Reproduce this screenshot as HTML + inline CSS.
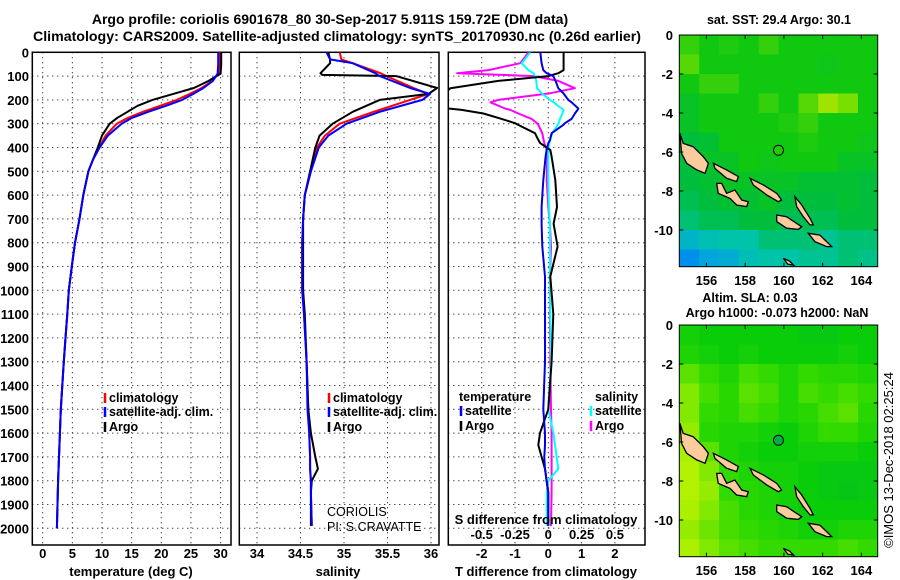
<!DOCTYPE html>
<html><head><meta charset="utf-8">
<style>
html,body{margin:0;padding:0;background:#fff;}
svg{display:block;font-family:"Liberation Sans",sans-serif;}
.tk{font-size:13px;font-weight:bold;fill:#000;}
.tt{font-size:14px;font-weight:bold;fill:#000;}
.lg{font-size:12.5px;font-weight:bold;fill:#000;}
</style></head>
<body>
<svg id="fig" width="900" height="580" viewBox="0 0 900 580" xmlns="http://www.w3.org/2000/svg">
<defs>
<clipPath id="c1"><rect x="32.3" y="52.3" width="198.7" height="492.7"/></clipPath>
<clipPath id="c2"><rect x="239.3" y="52.3" width="199.7" height="492.7"/></clipPath>
<clipPath id="c3"><rect x="448.3" y="52.3" width="196.7" height="492.7"/></clipPath>
<clipPath id="cm1"><rect x="679.3" y="35" width="198.4" height="231.7"/></clipPath>
<clipPath id="cm2"><rect x="679.3" y="325" width="198.4" height="231.7"/></clipPath>
</defs>
<text class="tt" x="330" y="24" text-anchor="middle">Argo profile: coriolis 6901678_80 30-Sep-2017 5.911S 159.72E (DM data)</text>
<text class="tt" x="337" y="41" text-anchor="middle" textLength="608" lengthAdjust="spacingAndGlyphs">Climatology: CARS2009. Satellite-adjusted climatology: synTS_20170930.nc (0.26d earlier)</text>
<g id="root"></g>
</svg>
<script>
// ---------- profile data ----------
const depthT=[0,50,90,100,120,150,175,200,225,250,275,300,350,400,450,500,600,700,800,900,1000,1100,1200,1300,1400,1500,1600,1700,1800,1900,2000];
const tempArgo=[30.1,30.1,30.0,29.3,28.0,25.5,22.0,18.5,16.0,14.3,12.6,11.3,10.0,9.3,8.5,7.7,6.85,6.2,5.45,4.9,4.4,4.15,3.85,3.55,3.3,3.05,2.9,2.75,2.6,2.5,2.4];
const tempClim=[29.8,29.8,29.7,29.3,28.6,26.8,24.8,22.6,19.8,16.9,14.4,12.5,10.6,9.5,8.5,7.7,6.85,6.2,5.45,4.9,4.4,4.15,3.85,3.55,3.3,3.05,2.9,2.75,2.6,2.5,2.4];
const tempSat=[29.6,29.6,29.5,29.2,28.7,27.1,25.4,23.5,20.8,17.8,15.1,13.3,11.0,9.6,8.5,7.7,6.85,6.2,5.45,4.9,4.4,4.15,3.85,3.55,3.3,3.05,2.9,2.75,2.6,2.5,2.4];
const depthS=[0,30,46,88,95,100,150,175,200,250,300,350,400,500,600,700,800,1000,1100,1300,1500,1600,1700,1750,1800,1850,1990];
const salArgo=[34.82,34.84,34.84,34.73,34.75,35.6,36.07,35.97,35.41,35.1,34.87,34.72,34.67,34.61,34.55,34.53,34.53,34.53,34.55,34.57,34.59,34.62,34.67,34.70,34.63,34.62,34.62];
const salClim=[34.95,34.97,35.1,35.42,35.46,35.49,35.8,35.97,35.76,35.34,34.95,34.78,34.69,34.62,34.55,34.53,34.52,34.52,34.54,34.57,34.59,34.6,34.61,34.61,34.62,34.62,34.63];
const salSat=[34.8,34.84,35.1,35.36,35.39,35.41,35.76,35.99,35.9,35.41,35.03,34.82,34.71,34.62,34.55,34.53,34.52,34.52,34.54,34.57,34.58,34.6,34.61,34.61,34.62,34.62,34.63];
const depthD=[0,46,75,88,100,120,151,172,200,210,236,242,257,280,298,305,340,368,382,410,438,537,650,720,816,942,1100,1300,1500,1600,1650,1700,1750,1800,1850,1990];
const tDiffArgo=[0.46,0.46,0.46,0.3,0.0,-1.5,-2.94,-3.1,-3.2,-3.2,-3.0,-2.6,-1.95,-1.4,-1.0,-0.9,-0.4,-0.3,-0.24,0.06,0.1,0.21,0.26,0.16,0.28,0.06,0.15,0.1,0.0,-0.25,-0.3,-0.2,-0.1,-0.05,0.0,0.0];
const tDiffSat=[-0.24,-0.2,-0.15,-0.05,0.15,0.22,0.3,0.45,0.6,0.7,0.9,0.88,0.8,0.7,0.5,0.45,0.1,0.05,0.0,-0.05,-0.08,-0.15,-0.2,-0.2,-0.18,-0.1,-0.1,-0.1,-0.15,-0.1,-0.1,-0.12,-0.1,-0.05,0.0,0.0];
const sDiffArgo=[-0.148,-0.21,-0.45,-0.685,-0.11,0.075,0.2,0.015,-0.375,-0.435,-0.325,-0.285,-0.225,-0.125,-0.085,-0.075,-0.045,-0.035,-0.03,-0.01,-0.008,-0.012,0,0.012,0.02,0.012,0.012,0.015,0.02,0.025,0.025,0.025,0.025,0.025,0.025,0.02];
const sDiffSat=[-0.135,-0.2,-0.15,-0.11,-0.1,-0.09,-0.085,-0.05,0.012,0.04,0.1,0.115,0.105,0.088,0.078,0.07,0.03,0.015,0.008,0,0,0,0.005,0.012,0.012,0.012,0.015,0.02,0,0.038,0.05,0.062,0.075,0,-0.012,-0.012];
const depthTicks=[0,100,200,300,400,500,600,700,800,900,1000,1100,1200,1300,1400,1500,1600,1700,1800,1900,2000];
const tempTicks=[0,5,10,15,20,25,30];
const salTicks=[34,34.5,35,35.5,36];
const salTickLabels=["34","34.5","35","35.5","36"];
const tdTicks=[-2,-1,0,1,2];
const sdTicks=[-0.5,-0.25,0,0.25,0.5];
const sdTickLabels=["-0.5","-0.25","0","0.25","0.5"];
// ---------- map data ----------
const latTicks=[0,-2,-4,-6,-8,-10];
const lonTicks=[156,158,160,162,164];
const sstGrid=[
[.55,.5,.52,.5,.55,.5,.5,.5,.5,.5],
[.6,.5,.5,.5,.5,.5,.5,.48,.5,.5],
[.5,.55,.55,.5,.5,.5,.5,.5,.5,.5],
[.45,.5,.5,.5,.55,.5,.6,.7,.65,.5],
[.45,.5,.5,.5,.5,.52,.55,.5,.5,.5],
[.4,.42,.5,.5,.5,.5,.52,.5,.5,.48],
[.4,.45,.45,.5,.48,.5,.5,.5,.45,.45],
[.4,.42,.45,.45,.45,.45,.42,.42,.42,.4],
[.38,.4,.42,.42,.45,.4,.4,.4,.42,.4],
[.35,.38,.38,.4,.4,.38,.38,.38,.4,.4],
[.25,.28,.3,.3,.35,.35,.35,.32,.35,.35],
[.15,.2,.22,.28,.3,.3,.32,.32,.35,.33]];
const slaGrid=[
[.35,.3,.3,.3,.3,.3,.25,.25,.3,.3],
[.4,.35,.3,.35,.3,.3,.3,.3,.35,.3],
[.6,.5,.4,.55,.5,.4,.5,.45,.45,.4],
[.7,.55,.45,.6,.55,.4,.55,.5,.55,.5],
[.7,.5,.45,.55,.5,.4,.45,.55,.6,.45],
[.75,.45,.4,.4,.35,.3,.4,.5,.5,.4],
[.8,.6,.4,.35,.3,.3,.35,.35,.35,.3],
[.85,.7,.5,.4,.35,.35,.3,.25,.25,.25],
[.85,.75,.5,.45,.4,.35,.3,.25,.2,.25],
[.8,.7,.55,.45,.4,.35,.3,.3,.3,.3],
[.75,.65,.55,.5,.45,.4,.35,.35,.4,.4],
[.8,.7,.6,.55,.5,.5,.5,.5,.55,.5]];
const islands=[
 [[154.63,-5.04],[154.8,-5.56],[155.32,-5.73],[155.84,-6.24],[156.1,-6.58],[155.93,-7.09],[155.5,-6.92],[154.98,-6.58],[154.72,-6.07]],
 [[156.36,-6.58],[157.04,-6.92],[157.65,-7.26],[157.56,-7.52],[157.04,-7.35],[156.44,-6.84]],
 [[158.25,-7.35],[158.94,-7.69],[159.63,-8.12],[159.88,-8.46],[159.71,-8.55],[159.11,-8.2],[158.42,-7.69]],
 [[156.53,-7.61],[156.79,-7.61],[157.04,-8.12],[157.47,-7.95],[157.82,-8.46],[158.16,-8.55],[158.08,-8.8],[157.56,-8.72],[157.22,-8.38],[156.61,-8.12]],
 [[159.63,-9.23],[160.14,-9.32],[160.66,-9.66],[160.92,-9.83],[160.74,-9.97],[160.14,-9.91],[159.63,-9.57]],
 [[160.57,-8.29],[160.92,-8.72],[161.35,-9.4],[161.52,-9.74],[161.35,-9.74],[161.0,-9.32],[160.66,-8.8]],
 [[161.26,-10.17],[161.86,-10.26],[162.47,-10.85],[162.21,-10.85],[161.6,-10.6]],
 [[159.97,-11.45],[160.3,-11.6],[160.5,-11.8],[160.2,-11.75]]];
const argoLon=159.72, argoLat=-5.911;

const NS="http://www.w3.org/2000/svg";
const root=document.getElementById('root');
function mk(tag,attrs,parent){const e=document.createElementNS(NS,tag);for(const k in attrs)e.setAttribute(k,attrs[k]);(parent||root).appendChild(e);return e;}
function txt(x,y,s,cls,anchor,parent){const t=mk('text',{x:x,y:y,class:cls,'text-anchor':anchor||'middle'},parent);t.textContent=s;return t;}

const top0=52.3, bot=545;
const yD=d=>top0+d*0.238;
const xT=v=>42.7+v*5.93;
const xS=v=>257+(v-34)*87;
const xTD=v=>548.3+v*33.3;
const xSD=v=>548.3+v*4*33.3;

function panel(name,x0,x1,xfun,ticks,labels,clip,withY){
  const g=mk('g',{});
  
  
  ticks.forEach(v=>{const l=mk('line',{x1:xfun(v),x2:xfun(v),y1:top0,y2:bot,stroke:'#000','stroke-width':1,'stroke-dasharray':'1,4'},g);
    
    });
  depthTicks.forEach(d=>{const l=mk('line',{x1:x0,x2:x1,y1:yD(d),y2:yD(d),stroke:'#000','stroke-width':1,'stroke-dasharray':'1,4'},g);
    
    });
  const r=mk('rect',{x:x0,y:top0,width:x1-x0,height:bot-top0,fill:'none',stroke:'#000','stroke-width':1.5},g);
  
  
  if(labels){ticks.forEach((v,i)=>{const t=txt(xfun(v),558,labels[i],'tk','middle',g);
    
    });}
  if(withY){depthTicks.forEach(d=>{const t=txt(29,yD(d)+5,String(d),'tk','end',g);
    
    });}
  return g;
}
function series(name,depths,vals,xfun,color,clip,w){
  const pts=vals.map((v,i)=>xfun(v).toFixed(1)+','+yD(depths[i]).toFixed(1)).join(' ');
  const p=mk('polyline',{points:pts,fill:'none',stroke:color,'stroke-width':w||2,'stroke-linejoin':'round','clip-path':'url(#'+clip+')'});
  
  
}
function legendEntry(name,x,y,color,label){
  const l=mk('line',{x1:x,x2:x,y1:y-9,y2:y+1,stroke:color,'stroke-width':2.5});
  
  
  const t=txt(x+4,y,label,'lg','start');
  
  
}

panel('temperature-panel',32.3,231,xT,tempTicks,tempTicks.map(String),'c1',true);
series('temperature-clim-line',depthT,tempClim,xT,'#ff0000','c1');
series('temperature-argo-line',depthT,tempArgo,xT,'#000000','c1');
series('temperature-sat-line',depthT,tempSat,xT,'#0000ff','c1');
let t1=txt(131,576,'temperature (deg C)','tk');


legendEntry('legend-climatology',105,402,'#ff0000','climatology');
legendEntry('legend-satellite-adj',105,416,'#0000ff','satellite-adj. clim.');
legendEntry('legend-argo',105,431,'#000000','Argo');

panel('salinity-panel',239.3,439,xS,salTicks,salTickLabels,'c2',false);
series('salinity-clim-line',depthS,salClim,xS,'#ff0000','c2');
series('salinity-argo-line',depthS,salArgo,xS,'#000000','c2');
series('salinity-sat-line',depthS,salSat,xS,'#0000ff','c2');
let t2=txt(338,576,'salinity','tk');


legendEntry('legend-climatology-s',329,402,'#ff0000','climatology');
legendEntry('legend-satellite-adj-s',329,416,'#0000ff','satellite-adj. clim.');
legendEntry('legend-argo-s',329,431,'#000000','Argo');
let c1=txt(327,516,'CORIOLIS','lg','start'); c1.setAttribute('style','font-weight:normal');


let c2=txt(327,531,'PI: S.CRAVATTE','lg','start'); c2.setAttribute('style','font-weight:normal');



panel('difference-panel',448.3,645,xTD,tdTicks,tdTicks.map(String),'c3',false);
series('s-diff-argo-line',depthD,sDiffArgo,xSD,'#ff00ff','c3',2);
series('s-diff-sat-line',depthD,sDiffSat,xSD,'#00ffff','c3',2);
series('t-diff-argo-line',depthD,tDiffArgo,xTD,'#000000','c3',2);
series('t-diff-sat-line',depthD,tDiffSat,xTD,'#0000e0','c3',2);
let t3=txt(546,576,'T difference from climatology','tk');


let s3=txt(546,524,'S difference from climatology','tk');


sdTicks.forEach((v,i)=>{const t=txt(xSD(v),539,sdTickLabels[i],'tk');
  
  });
let lt=txt(459,401,'temperature','lg','start');


let ls=txt(595,401,'salinity','lg','start');


legendEntry('legend-t-satellite',461,415,'#0000e0','satellite');
legendEntry('legend-t-argo',461,430,'#000000','Argo');
legendEntry('legend-s-satellite',591,415,'#00ffff','satellite');
legendEntry('legend-s-argo',591,430,'#ff00ff','Argo');

// ---------- maps ----------
const mx0=679.3,mx1=877.7,lon0=154.6,lon1=164.85;
const xL=lon=>mx0+(lon-lon0)*19.37;
function lerp(a,b,t){return a+(b-a)*t;}
function cmap(stops,v){v=Math.max(0,Math.min(1,v));for(let i=0;i<stops.length-1;i++){const a=stops[i],b=stops[i+1];if(v<=b[0]){const t=(v-a[0])/(b[0]-a[0]);return 'rgb('+[1,2,3].map(k=>Math.round(lerp(a[k],b[k],t))).join(',')+')';}}const l=stops[stops.length-1];return 'rgb('+l[1]+','+l[2]+','+l[3]+')';}
const sstStops=[[0,0,60,255],[0.18,0,160,230],[0.3,0,196,170],[0.4,0,190,60],[0.5,16,200,16],[0.65,120,224,0],[0.8,232,240,0],[1,255,128,0]];
const slaStops=[[0,0,180,50],[0.3,10,205,10],[0.5,50,218,0],[0.8,170,240,0],[1,200,248,0]];
function drawMap(name,ytop,grid,stops,clip,markerFill,t1s,t1y,t2s,t2y,t2x){
  const g=mk('g',{});
  
  
  const yL=lat=>ytop-lat*19.5;
  const cw=(lon1-lon0)/grid[0].length;
  grid.forEach((row,ri)=>row.forEach((v,ci)=>{
    const x=xL(lon0+ci*cw), y=yL(-ri);
    const r=mk('rect',{x:x.toFixed(1),y:y.toFixed(1),width:(cw*19.37+0.6).toFixed(1),height:20,fill:cmap(stops,v),'clip-path':'url(#'+clip+')'},g);
    
    
  }));
  islands.forEach(isl=>{
    const p=mk('polygon',{points:isl.map(q=>xL(q[0]).toFixed(1)+','+yL(q[1]).toFixed(1)).join(' '),fill:'#fccc9c',stroke:'#000','stroke-width':1.3,'clip-path':'url(#'+clip+')'},g);
    
    
  });
  const c=mk('circle',{cx:xL(argoLon),cy:yL(argoLat),r:5,fill:markerFill,stroke:'#000','stroke-width':1},g);
  
  
  const fr=mk('rect',{x:mx0,y:ytop,width:mx1-mx0,height:231.7,fill:'none',stroke:'#000','stroke-width':1},g);
  
  
  lonTicks.forEach(l=>{
    mk('line',{x1:xL(l),x2:xL(l),y1:ytop,y2:ytop+4,stroke:'#000'},g);
    mk('line',{x1:xL(l),x2:xL(l),y1:ytop+231.7,y2:ytop+227.7,stroke:'#000'},g);
    const t=txt(xL(l),ytop+250,String(l),'tk','middle',g);
    
    
  });
  latTicks.forEach(l=>{
    mk('line',{x1:mx0,x2:mx0+4,y1:yL(l),y2:yL(l),stroke:'#000'},g);
    mk('line',{x1:mx1,x2:mx1-4,y1:yL(l),y2:yL(l),stroke:'#000'},g);
    const t=txt(673,yL(l)+5,String(l),'tk','end',g);
    
    
  });
  const a=txt(t2s?750:779,t1y,t1s,'lg','middle',g);
  
  
  if(t2s){const b=txt(t2x,t2y,t2s,'lg','middle',g);
    
    }
}
drawMap('sst-map',35,sstGrid,sstStops,'cm1','#22cc00','sat. SST: 29.4 Argo: 30.1',24);
drawMap('sla-map',325,slaGrid,slaStops,'cm2','#00b040','Altim. SLA: 0.03',302,'Argo h1000: -0.073 h2000: NaN',317,777);
const cp=mk('text',{x:0,y:0,class:'lg',transform:'translate(893,460) rotate(-90)','text-anchor':'middle'});
cp.setAttribute('style','font-weight:normal;font-size:13px');
cp.textContent='©IMOS 13-Dec-2018 02:25:24';


</script>
</body></html>
